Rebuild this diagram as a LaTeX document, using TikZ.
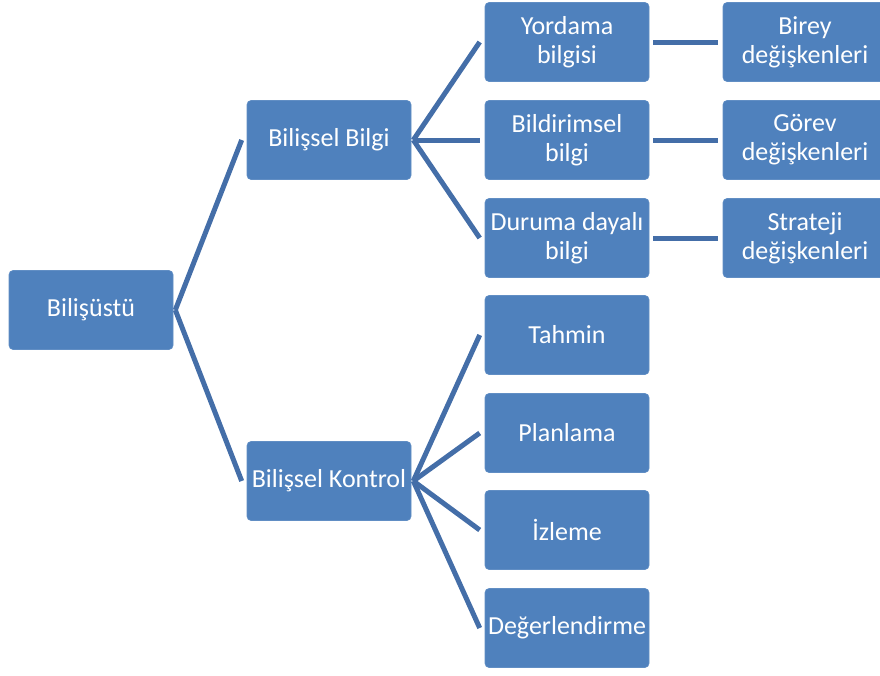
\documentclass[tikz,border=0pt]{standalone}
\usepackage{fontspec}
\setmainfont{Carlito}
\usetikzlibrary{positioning}
\definecolor{kutumavi}{RGB}{79,129,189}
\definecolor{bagmavi}{RGB}{68,110,168}

\begin{document}
\begin{tikzpicture}[x=1pt, y=-1pt,
    kutu/.style={rectangle, rounded corners=4pt, fill=kutumavi, draw=kutumavi!90!white,
        line width=0.6pt, text=white, minimum width=164pt, minimum height=79pt,
        inner xsep=0pt, inner ysep=2pt, align=center, font=\fontsize{26}{29}\selectfont},
    bag/.style={draw=bagmavi, line width=5pt}]
    \useasboundingbox (0,0) rectangle (880,675);
    % kök
    \node[kutu] (bu) at (91,310) {Bilişüstü};
    % ikinci düzey
    \node[kutu] (bb) at (329,140) {Bilişsel Bilgi};
    \node[kutu] (bk) at (329,481) {Bilişsel Kontrol};
    % bilgi dalı
    \node[kutu] (yb) at (567,42) {Yordama\\bilgisi};
    \node[kutu] (bsb) at (567,140) {Bildirimsel\\bilgi};
    \node[kutu] (db) at (567,238) {Duruma dayalı\\bilgi};
    \node[kutu] (bd) at (805,42) {Birey\\değişkenleri};
    \node[kutu] (gd) at (805,140) {Görev\\değişkenleri};
    \node[kutu] (sd) at (805,238) {Strateji\\değişkenleri};
    % kontrol dalı
    \node[kutu] (th) at (567,335) {Tahmin};
    \node[kutu] (pl) at (567,433) {Planlama};
    \node[kutu] (iz) at (567,530) {İzleme};
    \node[kutu] (de) at (567,628) {Değerlendirme};
    % bağlantılar
    \foreach \c in {bb,bk}
        \draw[bag] ([xshift=2pt]bu.east) -- ([xshift=-5pt]\c.west);
    \foreach \c in {yb,bsb,db}
        \draw[bag] ([xshift=2pt]bb.east) -- ([xshift=-5pt]\c.west);
    \foreach \c in {th,pl,iz,de}
        \draw[bag] ([xshift=2pt]bk.east) -- ([xshift=-5pt]\c.west);
    \draw[bag] ([xshift=4pt]yb.east) -- ([xshift=-5pt]bd.west);
    \draw[bag] ([xshift=4pt]bsb.east) -- ([xshift=-5pt]gd.west);
    \draw[bag] ([xshift=4pt]db.east) -- ([xshift=-5pt]sd.west);
\end{tikzpicture}
\end{document}
